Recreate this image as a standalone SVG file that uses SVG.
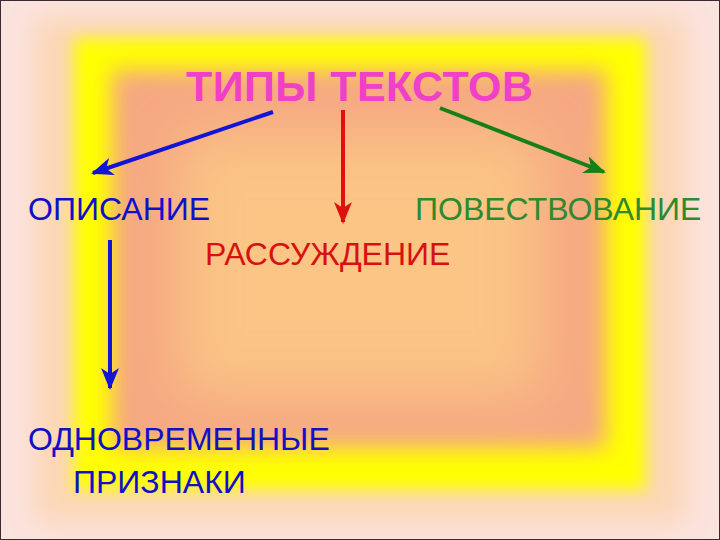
<svg xmlns="http://www.w3.org/2000/svg" width="720" height="540" viewBox="0 0 720 540">
<defs>
  <filter id="b1" x="-20%" y="-20%" width="140%" height="140%"><feGaussianBlur stdDeviation="14"/></filter>
  <filter id="b2" x="-20%" y="-20%" width="140%" height="140%"><feGaussianBlur stdDeviation="8"/></filter>
  <filter id="b3" x="-20%" y="-20%" width="140%" height="140%"><feGaussianBlur stdDeviation="11"/></filter>
  <filter id="b4" x="-30%" y="-30%" width="160%" height="160%"><feGaussianBlur stdDeviation="28"/></filter>
  <marker id="hb" markerUnits="userSpaceOnUse" viewBox="0 0 22 18" refX="20" refY="9" markerWidth="22" markerHeight="18" orient="auto"><path d="M0,0 L22,9 L0,18 L6,9 Z" fill="#1414d8"/></marker>
  <marker id="hr" markerUnits="userSpaceOnUse" viewBox="0 0 22 18" refX="20" refY="9" markerWidth="22" markerHeight="18" orient="auto"><path d="M0,0 L22,9 L0,18 L6,9 Z" fill="#e01010"/></marker>
  <marker id="hg" markerUnits="userSpaceOnUse" viewBox="0 0 22 18" refX="20" refY="9" markerWidth="22" markerHeight="18" orient="auto"><path d="M0,0 L22,9 L0,18 L6,9 Z" fill="#168016"/></marker>
  <style>
    .t{font-family:"Liberation Sans",Arial,sans-serif;font-size:32px}
    .c{fill:none;stroke-width:4}
  </style>
</defs>
<g id="background">
  <rect width="720" height="540" fill="#fbe3de"/>
  <rect x="35" y="18" width="650" height="504" fill="#fcd6b4" filter="url(#b1)"/>
  <rect x="74" y="38" width="572" height="452" fill="#ffff00" filter="url(#b2)"/>
  <rect x="112" y="70" width="494" height="378" fill="#f6a882" filter="url(#b3)"/>
  <rect x="180" y="135" width="360" height="260" fill="#fac585" filter="url(#b4)"/>
  <rect x="0.5" y="0.5" width="719" height="539" fill="none" stroke="#3a2a32" stroke-width="1"/>
</g>
<g id="connectors">
  <line class="c" x1="273" y1="112" x2="93" y2="173" stroke="#1414d8" marker-end="url(#hb)"/>
  <line class="c" x1="343" y1="110" x2="343" y2="222" stroke="#e01010" stroke-width="3" marker-end="url(#hr)"/>
  <line class="c" x1="440" y1="108" x2="604" y2="172" stroke="#168016" marker-end="url(#hg)"/>
  <line class="c" x1="110" y1="240" x2="110" y2="388" stroke="#1414d8" stroke-width="5" marker-end="url(#hb)"/>
</g>
<g id="title"><text x="186" y="101" font-family="'Liberation Sans',Arial,sans-serif" font-size="43" font-weight="bold" fill="#f040c8" textLength="347">ТИПЫ ТЕКСТОВ</text></g>
<g id="opisanie"><text class="t" x="28" y="220" fill="#1010c8">ОПИСАНИЕ</text></g>
<g id="povestvovanie"><text class="t" x="415" y="220" fill="#2e8a2e">ПОВЕСТВОВАНИЕ</text></g>
<g id="rassuzhdenie"><text class="t" x="205" y="265" fill="#d81010">РАССУЖДЕНИЕ</text></g>
<g id="priznaki"><text class="t" x="28" y="450" fill="#1010c8">ОДНОВРЕМЕННЫЕ</text><text class="t" x="73" y="493" fill="#1010c8">ПРИЗНАКИ</text></g>
</svg>
